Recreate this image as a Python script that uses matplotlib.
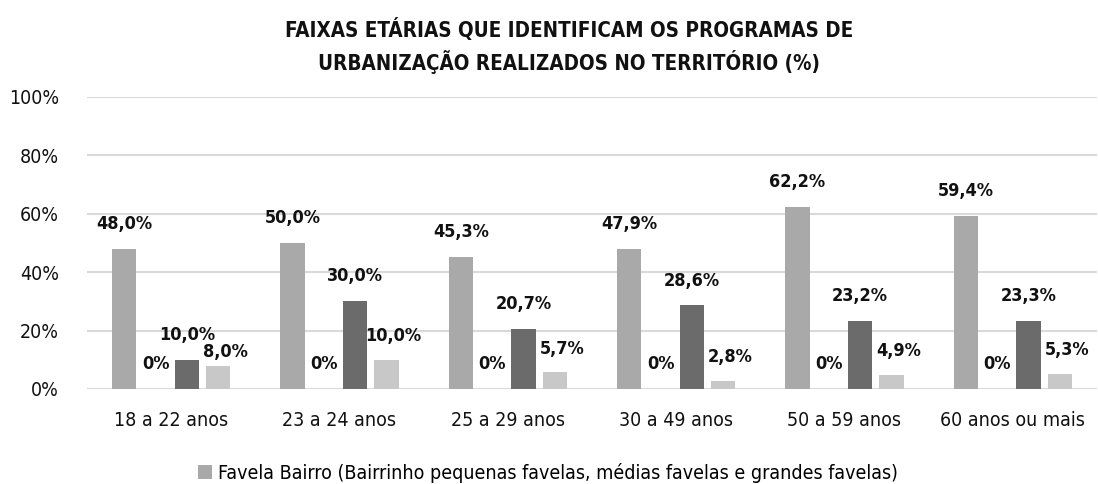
import matplotlib
matplotlib.use("Agg")
import matplotlib.pyplot as plt
import numpy as np

categories = ["18 a 22 anos", "23 a 24 anos", "25 a 29 anos", "30 a 49 anos", "50 a 59 anos", "60 anos ou mais"]
favela_bairro = [48.0, 50.0, 45.3, 47.9, 62.2, 59.4]
serie_zero = [0, 0, 0, 0, 0, 0]
serie_escura = [10.0, 30.0, 20.7, 28.6, 23.2, 23.3]
serie_clara = [8.0, 10.0, 5.7, 2.8, 4.9, 5.3]
yticks = [0, 20, 40, 60, 80, 100]

plt.rcParams['font.family'] = ["DejaVu Sans"]
plt.rcParams['font.stretch'] = 'condensed'

W, H = 1098, 484
fig = plt.figure(figsize=(W / 100, H / 100), dpi=100)
ax = fig.add_axes([87 / W, 1 - 389 / H, (1097 - 87) / W, (389 - 97) / H])

x = np.arange(len(categories))
slot = 0.186
bw = 0.144
series = [
    (favela_bairro, "#A9A9A9", "Favela Bairro (Bairrinho pequenas favelas, médias favelas e grandes favelas)"),
    (serie_zero, "#8C8C8C", "_s2"),
    (serie_escura, "#6B6B6B", "_s3"),
    (serie_clara, "#C8C8C8", "_s4"),
]
for k, (vals, col, lab) in enumerate(series):
    pos = x + (k - 1.5) * slot
    bars = ax.bar(pos, vals, width=bw, color=col, label=lab, zorder=3)
    for i, (b, v) in enumerate(zip(bars, vals)):
        txt = "0%" if v == 0 else f"{v:.1f}%".replace(".", ",")
        dx, dy = 0, 11.5
        if k == 3:
            dx, dy = 5, 10.5
            if i == 0:
                dy = 3.5
        ax.annotate(txt, (b.get_x() + b.get_width() / 2, v), xytext=(dx, dy),
                    textcoords="offset points", ha="center", va="bottom",
                    fontsize=13, fontweight="bold", color="#111111", zorder=4)

ax.set_xlim(-0.5, len(categories) - 0.5)
ax.set_ylim(0, 100)
ax.set_yticks(yticks)
ax.set_yticklabels([f"{t}%" for t in yticks], fontsize=14, color="#111111")
ax.set_xticks(x)
ax.set_xticklabels(categories, fontsize=14, color="#111111")
ax.tick_params(axis="both", length=0)
ax.tick_params(axis="y", pad=20)
ax.tick_params(axis="x", pad=16)
ax.yaxis.grid(True, color="#D9D9D9", linewidth=1.5, zorder=0)
ax.set_axisbelow(True)
for s in ax.spines.values():
    s.set_visible(False)

fig.text(569 / W, 1 - 46 / H, "FAIXAS ETÁRIAS QUE IDENTIFICAM OS PROGRAMAS DE\nURBANIZAÇÃO REALIZADOS NO TERRITÓRIO (%)",
         ha="center", va="center", fontsize=14.8, fontweight="bold", color="#111111", linespacing=1.47)

handles, labels = ax.get_legend_handles_labels()
fig.legend(handles[:1], labels[:1], loc="center", bbox_to_anchor=(548 / W, 1 - 473 / H),
           frameon=False, fontsize=14, handlelength=0.7, handleheight=0.7, handletextpad=0.3)

fig.savefig("out.png", dpi=100, facecolor="white")
